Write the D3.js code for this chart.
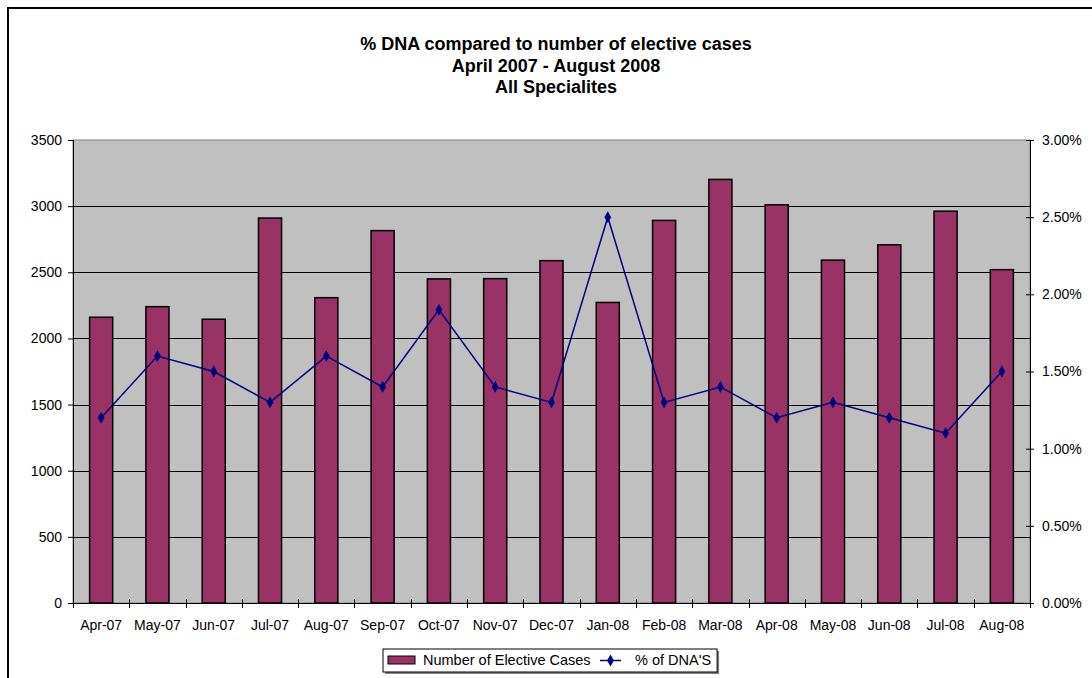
<!DOCTYPE html>
<html><head><meta charset="utf-8">
<script src="https://cdn.jsdelivr.net/npm/d3@7"></script>
<style>body{margin:0;background:#fff;} svg{display:block;font-family:"Liberation Sans",Arial,sans-serif;}</style>
</head><body>
<svg id="c" width="1092" height="678"></svg>
<script>
const months = ["Apr-07","May-07","Jun-07","Jul-07","Aug-07","Sep-07","Oct-07","Nov-07","Dec-07","Jan-08","Feb-08","Mar-08","Apr-08","May-08","Jun-08","Jul-08","Aug-08"];
const electiveCases = [2160,2240,2145,2910,2308,2815,2450,2452,2588,2272,2892,3202,3010,2592,2708,2962,2520];
const dnaPct = [0.012,0.016,0.015,0.013,0.016,0.014,0.019,0.014,0.013,0.025,0.013,0.014,0.012,0.013,0.012,0.011,0.015];
const leftTicks = [0,500,1000,1500,2000,2500,3000,3500];
const rightTicks = [0,0.005,0.01,0.015,0.02,0.025,0.03];
const titleLines = ["% DNA compared to number of elective cases","April 2007 - August 2008","All Specialites"];

const svg = d3.select("#c");
const L=73,R=1030,T=140,B=603;
const FS = "14px";

svg.append("rect").attr("x",8).attr("y",8).attr("width",1100).attr("height",700)
  .attr("fill","#fff").attr("stroke","#000").attr("stroke-width",2);

svg.selectAll("text.title").data(titleLines).join("text").attr("class","title")
  .attr("x",556).attr("y",(d,i)=>50+i*21.5).attr("text-anchor","middle")
  .attr("font-size","18px").attr("font-weight","bold").text(d=>d);

const x = d3.scaleBand().domain(months).range([L,R]).paddingInner(0.59).paddingOuter(0.295);
const xc = d3.scaleBand().domain(months).range([L,R]);
const y = d3.scaleLinear().domain([0,3500]).range([B,T]);
const y2 = d3.scaleLinear().domain([0,0.03]).range([B,T]);

svg.append("rect").attr("x",L).attr("y",T).attr("width",R-L).attr("height",B-T)
  .attr("fill","#c0c0c0").attr("stroke","#808080").attr("stroke-width",1);

svg.append("g").selectAll("line").data(leftTicks.filter(d=>d>0&&d<3500)).join("line")
  .attr("x1",L).attr("x2",R).attr("y1",d=>Math.round(y(d))+0.5).attr("y2",d=>Math.round(y(d))+0.5)
  .attr("stroke","#000").attr("stroke-width",1);

svg.append("g").selectAll("rect").data(electiveCases).join("rect")
  .attr("x",(d,i)=>x(months[i])).attr("width",x.bandwidth())
  .attr("y",d=>y(d)).attr("height",d=>B-y(d))
  .attr("fill","#993366").attr("stroke","#000").attr("stroke-width",1.5);

const ga = svg.append("g").attr("transform",`translate(${L},0)`)
  .call(d3.axisLeft(y).tickValues(leftTicks).tickSize(5).tickPadding(6).tickFormat(d3.format("d")));
ga.select(".domain").attr("stroke","#000");
ga.selectAll("text").attr("font-size",FS).attr("font-family","Liberation Sans, Arial").attr("fill","#000");

const gr = svg.append("g").attr("transform",`translate(${R},0)`)
  .call(d3.axisRight(y2).tickValues(rightTicks).tickSize(4).tickPadding(8).tickFormat(d3.format(".2%")));
gr.selectAll(".tick line").attr("x1",-4);
gr.select(".domain").attr("stroke","#000");
gr.selectAll("text").attr("font-size",FS).attr("font-family","Liberation Sans, Arial").attr("fill","#000");

svg.append("line").attr("x1",L).attr("x2",R).attr("y1",B+0.5).attr("y2",B+0.5).attr("stroke","#000");
const tickXs = months.map(m=>xc(m)).concat([R]);
svg.append("g").selectAll("line").data(tickXs).join("line")
  .attr("x1",d=>Math.round(d)+0.5).attr("x2",d=>Math.round(d)+0.5).attr("y1",B-4).attr("y2",B+5).attr("stroke","#000");
svg.append("g").selectAll("text").data(months).join("text")
  .attr("x",d=>xc(d)+xc.bandwidth()/2).attr("y",630).attr("text-anchor","middle")
  .attr("font-size",FS).text(d=>d);

const line = d3.line().x((d,i)=>xc(months[i])+xc.bandwidth()/2).y(d=>y2(d));
svg.append("path").datum(dnaPct).attr("d",line).attr("fill","none").attr("stroke","#000080").attr("stroke-width",1.5);
const diamond = d3.symbol().type(d3.symbolDiamond).size(40);
svg.append("g").selectAll("path").data(dnaPct).join("path")
  .attr("transform",(d,i)=>`translate(${xc(months[i])+xc.bandwidth()/2},${y2(d)})`)
  .attr("d",diamond).attr("fill","#000080");

// legend
const lg = svg.append("g");
const shadow = lg.append("rect").attr("x",385).attr("y",651).attr("height",23).attr("fill","#808080");
const box = lg.append("rect").attr("x",383).attr("y",649).attr("height",23).attr("fill","#fff").attr("stroke","#000");
lg.append("rect").attr("x",388).attr("y",656).attr("width",27).attr("height",8).attr("fill","#993366").attr("stroke","#000");
lg.append("text").attr("x",423).attr("y",665).attr("font-size","14.5px").text("Number of Elective Cases");
lg.append("line").attr("x1",600).attr("x2",621).attr("y1",660.5).attr("y2",660.5).attr("stroke","#000080").attr("stroke-width",1.5);
lg.append("path").attr("transform","translate(610.5,660.5)").attr("d",diamond).attr("fill","#000080");
const t2 = lg.append("text").attr("x",635).attr("y",665).attr("font-size","14.5px").text("% of DNA'S");
const w = 635 + t2.node().getComputedTextLength() + 6 - 383;
box.attr("width",w); shadow.attr("width",w);
</script>
</body></html>
